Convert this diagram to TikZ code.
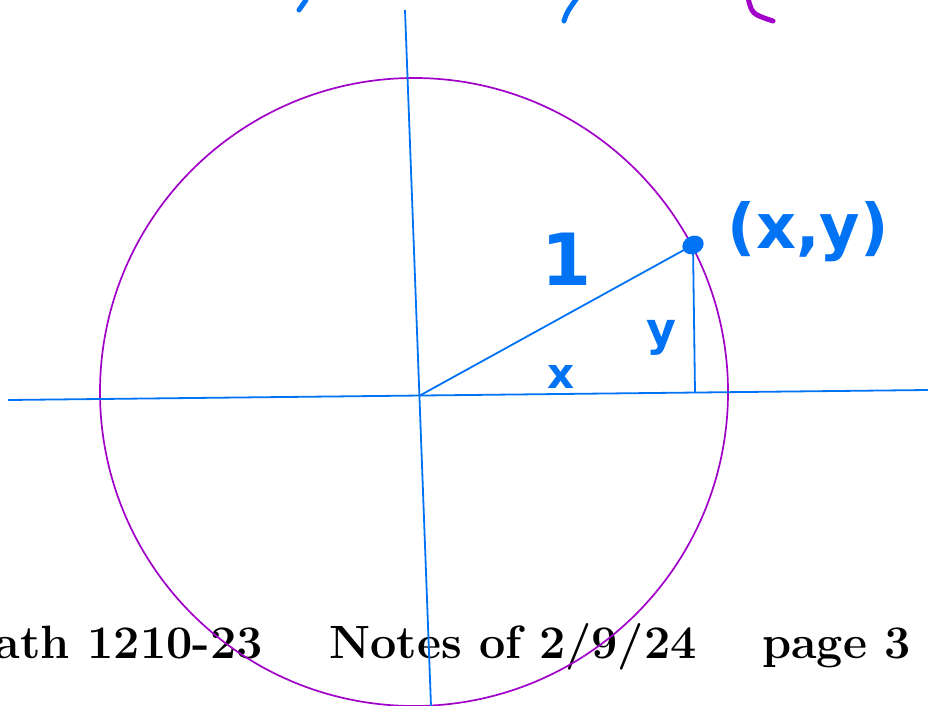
\documentclass[tikz,border=0pt]{standalone}
\usepackage{fontspec}
\newfontfamily\handfont{DejaVu Sans}
\definecolor{inkblue}{RGB}{0,115,245}
\definecolor{inkpurple}{RGB}{160,0,200}
\tikzset{
  axisline/.style={draw=inkblue, line width=1.8pt},
  circleline/.style={draw=inkpurple, line width=1.7pt},
  footer/.style={inner sep=0pt, font=\fontsize{46.7}{52}\selectfont\bfseries},
  handlabel/.style={inner sep=0pt, text=inkblue},
  penstroke/.style={line width=5pt, line cap=round}
}
\begin{document}
\begin{tikzpicture}[x=1pt,y=-1pt]
\useasboundingbox (0,0) rectangle (928,706);
\clip (0,0) rectangle (928,706);
\fill[white] (0,0) rectangle (928,706);
% footer text
\node[footer, anchor=base east] (course) at (263,658) {Math 1210-23};
\node[footer, anchor=base west] (notes) at (329,658) {Notes of 2/9/24};
\node[footer, anchor=base west] (page) at (762,658) {page 3};
% key points
\coordinate (O) at (419,396);
\coordinate (P) at (693,245);
\coordinate (F) at (695,393);
\coordinate (xl) at (8,400);
\coordinate (xr) at (928,390);
\coordinate (yt) at (405,10);
\coordinate (yb) at (431,706);
% unit circle
\draw[circleline] (414,392) circle[radius=314];
% axes
\draw[axisline] (xl) -- (xr);
\draw[axisline] (yt) -- (yb);
% triangle
\draw[axisline] (O) -- (P);
\draw[axisline] (P) -- (F);
\fill[inkblue, rotate around={25:(P)}] (P) ellipse[x radius=11, y radius=9];
% handwritten labels
\node[handlabel, font=\handfont\bfseries\fontsize{62}{70}\selectfont] (pt) at (808,232) {(x,y)};
\node[handlabel, font=\handfont\bfseries\fontsize{72}{80}\selectfont] (one) at (567,259) {1};
\node[handlabel, font=\handfont\bfseries\fontsize{46}{50}\selectfont] (ylab) at (661,338) {y};
\node[handlabel, font=\handfont\bfseries\fontsize{42}{50}\selectfont] (xlab) at (561,377) {x};
% clipped strokes at top
\draw[penstroke, inkblue] (299,10) -- (306,0);
\draw[penstroke, inkblue] (564,21) .. controls (567,12) .. (577,-2);
\draw[penstroke, inkpurple] (748,-2) .. controls (752,14) .. (773,21);
\end{tikzpicture}
\end{document}
